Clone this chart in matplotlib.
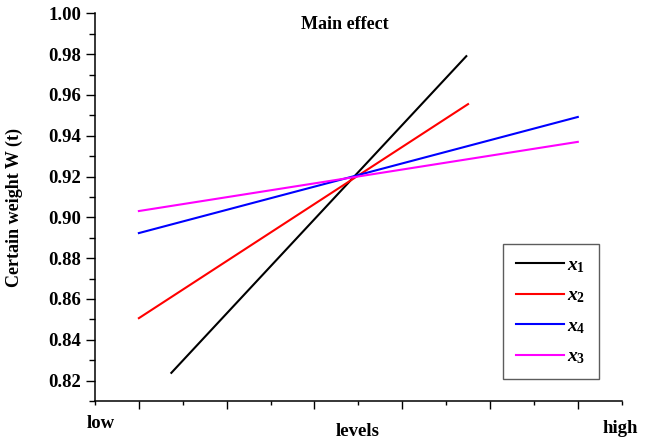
import matplotlib.pyplot as plt
from matplotlib.ticker import FixedLocator, MultipleLocator

plt.rcParams['font.family'] = 'Liberation Serif'
plt.rcParams['font.weight'] = 'bold'
plt.rcParams['mathtext.fontset'] = 'custom'
plt.rcParams['mathtext.it'] = 'Liberation Serif:italic:bold'
plt.rcParams['mathtext.rm'] = 'Liberation Serif:bold'

# factor levels (position along the level axis) and response at each end
x1_lv = [1.74, 8.46]
x1_w = [0.8238, 0.9790]
x2_lv = [1.0, 8.50]
x2_w = [0.8506, 0.9555]
x4_lv = [1.0, 11.0]
x4_w = [0.8923, 0.9492]
x3_lv = [1.0, 11.0]
x3_w = [0.9031, 0.9370]

series = [
    (x1_lv, x1_w, 'black', r'$x_1$'),
    (x2_lv, x2_w, 'red', r'$x_2$'),
    (x4_lv, x4_w, 'blue', r'$x_4$'),
    (x3_lv, x3_w, 'magenta', r'$x_3$'),
]

fig = plt.figure(figsize=(6.56, 4.41), dpi=100)
ax = fig.add_axes([0.1448, 0.0907, 0.8029, 0.8791])

for xs, ys, c, lab in series:
    ax.plot(xs, ys, color=c, lw=1.5, label=lab)

ax.set_xlim(0, 12)
ax.set_ylim(0.81, 1.00)

ax.spines['top'].set_visible(False)
ax.spines['right'].set_visible(False)
ax.spines['left'].set_linewidth(1.1)
ax.spines['bottom'].set_linewidth(1.1)

ax.xaxis.set_major_locator(FixedLocator([1, 3, 5, 7, 9, 11]))
ax.xaxis.set_minor_locator(FixedLocator([0, 2, 4, 6, 8, 10, 12]))
ax.set_xticklabels([])
ax.yaxis.set_major_locator(FixedLocator([0.82, 0.84, 0.86, 0.88, 0.90, 0.92, 0.94, 0.96, 0.98, 1.00]))
ax.yaxis.set_minor_locator(MultipleLocator(0.01))
ax.yaxis.set_major_formatter(plt.FormatStrFormatter('%.2f'))

ax.tick_params(axis='x', which='major', length=6, width=1, direction='out')
ax.tick_params(axis='x', which='minor', length=2.7, width=1, direction='out')
ax.tick_params(axis='y', which='major', length=6.5, width=1, direction='out',
               labelsize=13.5, pad=3.6)
ax.tick_params(axis='y', which='minor', length=4.5, width=1, direction='out')

ax.set_ylabel('Certain weight W (t)', fontsize=13, fontweight='bold')
ax.yaxis.set_label_coords(-0.137, 0.5)

fig.text(344.5 / 656, (441 - 29) / 441, 'Main effect', ha='center', va='baseline',
         fontsize=13, fontweight='bold')
fig.text(101 / 656, (441 - 428) / 441, 'low', ha='center', va='baseline',
         fontsize=13.5, fontweight='bold')
fig.text(358 / 656, (441 - 436) / 441, 'levels', ha='center', va='baseline',
         fontsize=13.5, fontweight='bold')
fig.text(620 / 656, (441 - 433) / 441, 'high', ha='center', va='baseline',
         fontsize=13.5, fontweight='bold')

leg = ax.legend(loc='upper left', bbox_to_anchor=(503.3 / 656, (441 - 244) / 441),
                bbox_transform=fig.transFigure, fontsize=14, frameon=True,
                fancybox=False, handlelength=2.45, handletextpad=0.2,
                labelspacing=0.62, borderpad=0.65, borderaxespad=0)
leg.get_frame().set_edgecolor('#333333')
leg.get_frame().set_linewidth(1.0)

fig.savefig('out.png', dpi=100)
